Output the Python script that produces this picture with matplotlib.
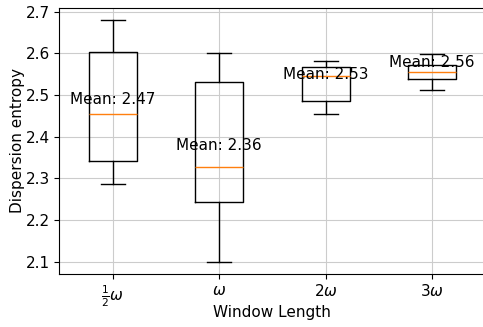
import matplotlib
matplotlib.use('Agg')
from matplotlib import pyplot as plt

labels = [r'$\frac{1}{2}\omega$', r'$\omega$', r'$2\omega$', r'$3\omega$']
whislo = [2.287, 2.100, 2.454, 2.512]
q1 = [2.342, 2.242, 2.485, 2.538]
med = [2.454, 2.326, 2.546, 2.555]
q3 = [2.603, 2.531, 2.568, 2.573]
whishi = [2.680, 2.600, 2.581, 2.599]
means = [2.47, 2.36, 2.53, 2.56]

stats = []
for i in range(len(labels)):
    stats.append({'whislo': whislo[i], 'q1': q1[i], 'med': med[i],
                  'q3': q3[i], 'whishi': whishi[i], 'fliers': []})

plt.rcParams['font.size'] = 11
fig = plt.figure(figsize=(4.83, 3.27), dpi=100)
ax = fig.add_axes([0.123, 0.163, 0.882, 0.813])
ax.bxp(stats, positions=[1, 2, 3, 4], showfliers=False)
for i, m in enumerate(means):
    ax.text(i + 1, m, 'Mean: %.2f' % m, ha='center', va='bottom', fontsize=11)

ax.set_xticks([1, 2, 3, 4])
ax.set_xticklabels(labels)
ax.grid(True, color='#cccccc', linewidth=0.8)
ax.set_axisbelow(True)
ax.set_xlabel('Window Length', labelpad=-3)
ax.set_ylabel('Dispersion entropy', labelpad=0)
fig.savefig('out.png', dpi=100)
